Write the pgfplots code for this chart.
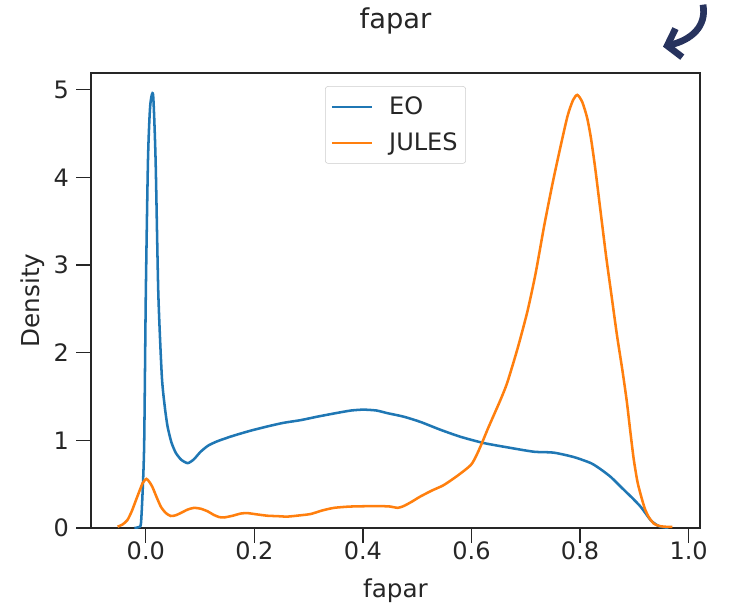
\documentclass[border=0pt]{standalone}
\usepackage{fontspec}
\setmainfont{DejaVu Sans}
\usepackage{pgfplots}
\pgfplotsset{compat=1.18}
\usetikzlibrary{arrows.meta}

\definecolor{eoblue}{HTML}{1F77B4}
\definecolor{julesorange}{HTML}{FF7F0E}
\definecolor{axisgray}{HTML}{262626}
\definecolor{arrownavy}{HTML}{27335E}

% KDE curves
\pgfplotstableread{
x y
-0.021 0
-0.013 0.01
-0.009 0.05
-0.006 0.40
-0.003 0.97
0.000 2.68
0.004 4.20
0.008 4.81
0.0134 4.94
0.018 4.20
0.023 2.68
0.0295 1.73
0.035 1.38
0.040 1.16
0.047 0.98
0.055 0.86
0.065 0.78
0.077 0.74
0.088 0.78
0.101 0.87
0.115 0.94
0.132 0.99
0.160 1.05
0.193 1.11
0.225 1.16
0.254 1.20
0.285 1.23
0.316 1.27
0.350 1.31
0.378 1.34
0.401 1.35
0.425 1.34
0.445 1.31
0.475 1.27
0.506 1.21
0.543 1.12
0.580 1.04
0.622 0.97
0.666 0.92
0.715 0.87
0.751 0.86
0.788 0.81
0.820 0.74
0.838 0.67
0.857 0.58
0.875 0.47
0.895 0.35
0.912 0.24
0.930 0.09
0.940 0.04
0.948 0.015
0.963 0
}\eo

\pgfplotstableread{
x y
-0.052 0.015
-0.043 0.04
-0.034 0.09
-0.026 0.19
-0.018 0.32
-0.006 0.51
0.001 0.56
0.006 0.53
0.012 0.47
0.020 0.35
0.028 0.24
0.037 0.17
0.046 0.137
0.055 0.145
0.064 0.17
0.077 0.21
0.089 0.23
0.101 0.22
0.114 0.19
0.125 0.15
0.135 0.125
0.144 0.12
0.160 0.14
0.175 0.165
0.187 0.17
0.205 0.155
0.224 0.14
0.243 0.135
0.261 0.13
0.285 0.145
0.304 0.16
0.325 0.20
0.347 0.23
0.378 0.245
0.427 0.25
0.450 0.245
0.464 0.23
0.475 0.25
0.490 0.30
0.506 0.36
0.528 0.43
0.549 0.49
0.575 0.60
0.599 0.72
0.610 0.84
0.620 0.98
0.630 1.13
0.642 1.30
0.654 1.47
0.666 1.66
0.685 2.05
0.703 2.47
0.718 2.90
0.734 3.45
0.750 3.95
0.764 4.35
0.777 4.70
0.787 4.88
0.795 4.94
0.804 4.86
0.813 4.68
0.820 4.45
0.828 4.10
0.838 3.60
0.848 3.10
0.858 2.65
0.868 2.20
0.878 1.80
0.886 1.45
0.893 1.08
0.899 0.78
0.906 0.52
0.914 0.33
0.920 0.21
0.927 0.12
0.936 0.05
0.945 0.025
0.955 0.015
0.970 0.012
}\jules

\begin{document}
\begin{tikzpicture}
\begin{axis}[
  scale only axis,
  width=456.75pt, height=341.25pt,
  xmin=-0.101, xmax=1.021,
  ymin=0, ymax=5.19,
  xtick={0,0.2,0.4,0.6,0.8,1.0},
  ytick={0,1,2,3,4,5},
  xtick pos=bottom, ytick pos=left,
  tick align=outside,
  major tick length=11pt,
  every tick/.style={axisgray, line width=1pt},
  axis line style={axisgray, line width=1pt},
  /pgf/number format/assume math mode=true,
  x tick label style={/pgf/number format/fixed, /pgf/number format/fixed zerofill, /pgf/number format/precision=1},
  every x tick label/.append style={font=\fontsize{18}{21}\selectfont, text=axisgray, anchor=center, yshift=-6pt},
  every y tick label/.append style={font=\fontsize{18}{21}\selectfont, text=axisgray, anchor=east, xshift=-2pt},
  xlabel={fapar}, ylabel={Density},
  xlabel style={font=\fontsize{18.5}{22}\selectfont, text=axisgray, at={(0.5,0)}, anchor=center, yshift=-47pt},
  ylabel style={font=\fontsize{18.5}{22}\selectfont, text=axisgray, at={(0,0.5)}, anchor=center, yshift=43.5pt},
  title={fapar},
  title style={font=\fontsize{20.5}{24}\selectfont, text=axisgray, at={(0.5,1)}, anchor=center, yshift=33pt},
  legend style={at={(0.5,0.971)}, anchor=north, draw=black!20, rounded corners=2pt,
    fill=white, fill opacity=0.8, text opacity=1,
    font=\fontsize{18}{21}\selectfont, text=axisgray,
    row sep=8pt, inner xsep=4pt, inner ysep=6pt,
    /tikz/every odd column/.append style={column sep=10pt}},
  legend cell align=left,
  legend image code/.code={\draw[#1, line width=1.9pt] (0pt,0pt) -- (30pt,0pt);},
]
\addplot[eoblue, line width=1.9pt, smooth, tension=0.4] table {\eo};
\addlegendentry{EO}
\addplot[julesorange, line width=1.9pt, smooth, tension=0.4] table {\jules};
\addlegendentry{JULES}
\end{axis}
% curved arrow icon at the top right
\draw[arrownavy, line width=5pt, -{Straight Barb[length=9pt, width=22pt]}]
  (459pt,392.5pt) .. controls (462pt,376pt) and (450pt,366pt) .. (429pt,361pt);
\pgfresetboundingbox
\path (-68.25pt,-58.5pt) rectangle (479.25pt,396pt);
\end{tikzpicture}
\end{document}
